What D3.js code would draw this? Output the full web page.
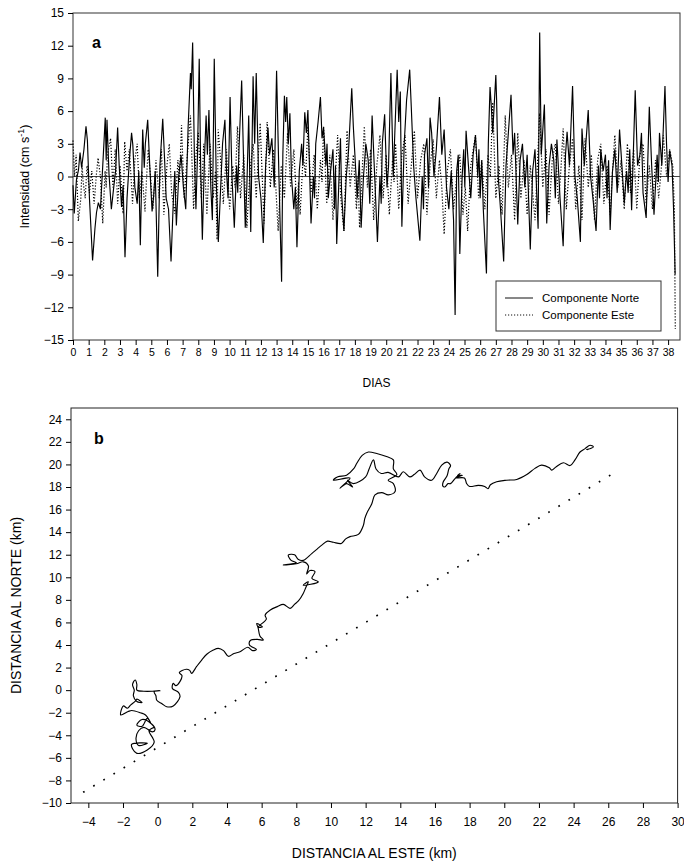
<!DOCTYPE html>
<html>
<head>
<meta charset="utf-8">
<script src="https://cdn.jsdelivr.net/npm/d3@7"></script>
<style>
  body { margin: 0; background: #fff; }
  svg { display: block; font-family: "Liberation Sans", Arial, sans-serif; }
</style>
</head>
<body>
<script>
// panel a: velocity components, [day, cm/s]
var norte = [
  [0.00,-0.8],[0.08,-3.4],[0.22,-0.3],[0.35,0.6],[0.45,2.2],[0.55,0.8],[0.70,2.5],[0.83,4.6],[0.92,3.3],
  [1.05,-2.0],[1.25,-7.7],[1.40,-4.8],[1.50,-3.3],[1.62,-2.4],[1.75,-3.0],[1.90,1.0],[2.06,5.4],[2.12,1.5],
  [2.17,5.2],[2.30,0.2],[2.45,-3.0],[2.60,-1.0],[2.72,0.5],[2.85,4.5],[2.95,1.0],[3.10,-2.8],[3.20,-0.8],
  [3.32,-7.4],[3.45,-2.0],[3.60,1.5],[3.74,4.0],[3.82,2.9],[3.95,-1.0],[4.10,-2.5],[4.20,0.5],[4.30,-6.3],
  [4.45,4.3],[4.55,0.8],[4.62,3.0],[4.77,5.2],[4.90,1.0],[5.05,-3.2],[5.15,-1.8],[5.25,0.5],[5.41,-9.2],
  [5.55,1.0],[5.73,5.3],[5.85,1.5],[5.95,-2.0],[6.10,-3.0],[6.26,-7.8],[6.40,-2.5],[6.50,0.5],[6.60,-4.5],
  [6.75,0.0],[6.90,2.0],[7.05,-1.0],[7.20,-3.0],[7.35,4.5],[7.50,9.5],[7.55,8.0],[7.64,12.3],[7.75,2.0],
  [7.85,-3.0],[7.95,2.0],[8.06,10.8],[8.15,1.0],[8.26,-5.8],[8.38,1.0],[8.50,5.6],[8.58,2.0],[8.68,6.1],
  [8.80,-1.0],[8.90,-4.0],[9.02,10.8],[9.15,-0.5],[9.28,-6.0],[9.40,-2.0],[9.55,3.0],[9.70,5.2],[9.80,0.5],
  [9.90,-2.0],[10.03,7.3],[10.15,0.0],[10.30,-4.7],[10.45,1.0],[10.52,-1.5],[10.60,2.5],[10.77,8.8],[10.90,1.0],
  [11.00,-4.7],[11.10,-1.0],[11.22,5.6],[11.35,-5.1],[11.50,9.2],[11.60,3.0],[11.70,9.5],[11.85,0.0],
  [12.00,-2.0],[12.15,-6.1],[12.30,1.0],[12.45,4.5],[12.55,2.0],[12.70,3.5],[12.85,-1.0],[13.00,9.7],
  [13.15,0.0],[13.32,-9.65],[13.40,2.0],[13.50,7.4],[13.58,5.0],[13.65,7.3],[13.75,3.0],[13.85,5.8],
  [13.95,0.0],[14.10,-3.0],[14.20,-1.0],[14.30,-6.5],[14.45,0.5],[14.60,3.0],[14.68,1.0],[14.80,5.9],[14.90,4.0],[15.00,6.1],
  [15.20,-4.3],[15.35,0.0],[15.42,-2.0],[15.50,3.0],[15.65,5.0],[15.80,7.3],[15.90,3.5],[16.00,4.5],[16.15,1.0],
  [16.22,3.0],[16.30,-2.0],[16.45,0.5],[16.60,2.5],[16.70,-3.0],[16.76,1.0],[16.84,-6.2],[17.00,0.5],[17.08,3.5],[17.15,-1.5],[17.30,-5.0],[17.45,0.0],
  [17.60,2.5],[17.80,8.1],[17.90,4.6],[18.00,2.0],[18.15,-2.0],[18.28,1.5],[18.40,-4.7],[18.55,0.0],[18.70,3.0],
  [18.85,1.5],[18.95,-2.5],[19.10,5.6],[19.25,0.5],[19.44,-6.0],[19.60,0.0],[19.68,-2.5],[19.75,3.0],[19.90,5.7],[20.05,-1.0],
  [20.15,1.0],[20.30,9.5],[20.45,0.0],[20.55,4.0],[20.70,9.8],[20.80,5.0],[20.90,7.8],[21.00,-4.6],
  [21.15,3.0],[21.30,7.0],[21.50,9.8],[21.60,6.4],[21.75,1.0],[21.90,-2.0],[22.15,-5.9],[22.30,0.0],
  [22.38,-3.0],[22.45,2.0],[22.60,3.5],[22.70,-1.0],[22.80,5.4],[22.90,4.0],[23.05,0.0],[23.20,2.5],[23.40,7.3],[23.55,2.0],
  [23.70,4.3],[23.85,-1.0],[24.00,-3.0],[24.15,0.5],[24.30,-4.0],[24.40,-12.7],[24.50,0.5],[24.60,2.0],
  [24.70,-7.1],[24.85,0.0],[24.95,2.5],[25.02,-1.0],[25.10,4.2],[25.25,1.0],[25.40,-2.0],[25.55,2.0],[25.70,3.8],[25.85,0.0],
  [25.92,2.5],[26.00,-2.0],[26.10,1.5],[26.20,-3.0],[26.40,-8.9],[26.52,3.0],[26.63,8.2],[26.70,6.7],[26.80,4.0],[27.00,9.3],
  [27.05,7.0],[27.15,0.0],[27.30,-3.0],[27.50,-7.8],[27.65,1.0],[27.80,4.0],[27.97,7.5],[28.10,2.0],
  [28.20,4.0],[28.40,-4.4],[28.55,1.5],[28.70,3.0],[28.85,-1.0],[29.00,2.0],[29.20,-6.7],[29.35,0.5],
  [29.50,2.5],[29.70,-4.8],[29.80,13.2],[29.90,2.0],[30.10,6.6],[30.25,-4.3],[30.40,1.0],[30.55,3.0],
  [30.70,1.5],[30.80,-2.0],[30.90,3.4],[31.10,-2.0],[31.30,-6.4],[31.45,2.0],[31.55,4.1],[31.70,1.0],[31.90,8.3],
  [32.05,0.0],[32.20,-2.0],[32.40,-6.0],[32.50,4.4],[32.65,1.0],[32.90,6.1],[33.05,0.0],[33.20,-2.0],
  [33.40,-5.0],[33.55,1.0],[33.62,-2.0],[33.70,2.5],[33.85,0.5],[34.00,2.0],[34.10,-2.0],[34.20,1.5],[34.30,-4.9],[34.45,0.5],[34.60,2.5],
  [34.75,-1.5],[34.90,4.3],[35.05,1.0],[35.20,-2.5],[35.35,0.5],[35.45,-1.5],[35.55,2.5],[35.67,-3.1],[35.90,7.9],[36.05,1.0],
  [36.20,2.0],[36.30,4.0],[36.40,-1.5],[36.60,-3.8],[36.80,6.4],[36.95,1.0],[37.10,-3.5],[37.30,2.0],[37.38,-0.5],[37.45,4.0],
  [37.60,1.0],[37.80,8.3],[37.90,3.0],[38.00,-0.5],[38.10,2.4],[38.25,1.0],[38.35,-3.0],[38.45,-9.0]
];

var este = [
  [0.00,3.3],[0.10,0.0],[0.20,2.0],[0.34,-4.1],[0.50,-2.0],[0.58,1.0],[0.65,-0.5],[0.78,-2.0],[0.90,1.0],[1.05,-1.5],[1.20,0.5],
  [1.35,-2.5],[1.48,0.0],[1.60,1.7],[1.75,0.0],[1.90,-4.3],[2.05,0.5],[2.12,-1.0],[2.20,2.0],[2.40,3.5],[2.55,-1.0],[2.70,2.5],
  [2.85,-2.5],[3.00,1.0],[3.10,-1.0],[3.20,-3.4],[3.30,3.2],[3.45,0.5],[3.60,2.5],[3.80,-2.5],[3.95,1.5],[4.10,3.0],
  [4.25,-2.0],[4.40,0.5],[4.60,-3.2],[4.70,0.0],[4.80,2.5],[4.95,0.0],[5.10,-3.0],[5.30,1.5],[5.50,-2.0],[5.65,2.5],
  [5.80,-3.5],[6.00,1.0],[6.15,3.0],[6.30,-1.5],[6.50,-3.4],[6.70,1.5],[6.80,-0.5],[6.93,4.7],[7.10,-2.0],[7.25,1.0],
  [7.50,5.6],[7.70,-3.0],[7.85,2.0],[8.00,4.0],[8.20,-2.0],[8.35,3.0],[8.55,-3.5],[8.75,3.0],[8.95,-2.0],
  [9.10,0.5],[9.20,-5.8],[9.27,4.3],[9.45,1.0],[9.60,-2.5],[9.80,2.5],[10.00,-3.0],[10.20,1.0],[10.35,-1.0],[10.50,4.6],
  [10.70,-2.0],[10.90,2.0],[11.10,-4.7],[11.30,0.5],[11.50,3.0],[11.70,-2.0],[11.80,1.0],[11.95,4.9],[12.20,-4.3],
  [12.40,5.0],[12.60,-1.0],[12.80,2.5],[12.95,-1.0],[13.10,-5.0],[13.30,1.0],[13.50,-2.0],[13.70,4.0],[13.90,-1.0],
  [14.10,2.5],[14.30,-3.0],[14.40,-0.5],[14.50,-3.5],[14.70,2.0],[14.85,0.0],[15.00,4.6],[15.20,-1.5],[15.40,2.0],[15.60,-3.0],
  [15.80,1.5],[15.90,-0.5],[16.00,4.6],[16.20,-2.5],[16.40,2.0],[16.60,-4.0],[16.75,0.0],[16.90,3.8],[17.10,-2.0],[17.30,-5.0],
  [17.50,4.2],[17.70,-1.0],[17.90,2.0],[18.10,-3.0],[18.20,0.0],[18.30,-4.7],[18.60,4.6],[18.80,-1.0],[19.00,2.5],
  [19.20,-4.0],[19.40,1.0],[19.60,3.8],[19.80,-2.0],[20.00,2.0],[20.20,-3.5],[20.40,1.5],[20.50,-0.5],[20.60,3.0],
  [20.80,-3.0],[21.00,2.0],[21.20,3.8],[21.40,-2.5],[21.60,1.0],[21.80,4.2],[22.00,-2.0],[22.20,1.5],
  [22.40,3.0],[22.60,-3.5],[22.80,1.0],[23.00,3.4],[23.20,-2.0],[23.40,1.5],[23.55,-1.0],[23.70,-5.3],[23.90,0.5],
  [24.10,2.5],[24.30,-3.0],[24.50,0.0],[24.70,2.0],[24.90,-3.5],[25.05,-1.0],[25.20,-5.0],[25.40,1.0],[25.70,3.8],
  [25.90,-2.0],[26.10,1.5],[26.30,-3.0],[26.50,2.0],[26.65,0.0],[26.80,6.8],[27.00,-2.0],[27.20,1.0],[27.40,-3.5],
  [27.60,5.6],[27.80,-1.0],[28.00,2.0],[28.20,-4.0],[28.40,4.0],[28.60,-2.0],[28.80,1.5],[29.00,-3.5],
  [29.20,1.0],[29.35,-1.5],[29.50,-4.0],[29.80,5.8],[30.00,-1.0],[30.20,2.5],[30.40,-3.5],[30.60,1.5],[30.80,3.0],
  [31.00,-2.5],[31.15,0.5],[31.30,4.4],[31.50,-3.0],[31.70,1.0],[31.90,3.5],[32.10,-3.0],[32.30,1.0],[32.50,-4.0],
  [32.70,3.5],[32.90,-1.0],[33.10,2.0],[33.30,-4.0],[33.50,1.5],[33.70,3.0],[33.90,-2.5],[34.10,1.0],
  [34.30,-3.5],[34.45,0.5],[34.60,3.8],[34.80,-1.0],[35.00,1.5],[35.20,-3.0],[35.40,3.0],[35.60,-1.5],[35.80,2.5],
  [36.00,-3.0],[36.20,2.0],[36.40,3.0],[36.60,-2.5],[36.80,1.0],[37.00,-3.0],[37.20,1.5],[37.40,-2.0],
  [37.55,0.5],[37.70,3.8],[37.90,0.0],[38.10,2.5],[38.30,1.0],[38.40,-3.0],[38.46,-14.0]
];

var dayTicks = d3.range(0, 39);
var velTicks = [-15, -12, -9, -6, -3, 0, 3, 6, 9, 12, 15];

// panel b: progressive vector path, [km east, km north]
var trayectoria = [
  [-0.2,-3.3],[-0.5,-3.6],[-0.3,-4.2],[-0.2,-4.6],[-0.6,-5.3],[-1.2,-5.6],[-1.45,-5.2],[-1.5,-4.8],
  [-0.6,-4.7],[-1.1,-4.9],[-1.25,-4.3],[-1.1,-3.6],[-0.8,-3.3],[-0.3,-3.7],[-0.15,-3.5],[-0.35,-3.0],
  [-0.9,-2.6],[-1.2,-3.1],[-0.9,-3.2],[-0.6,-2.5],[-0.4,-2.9],[-0.7,-2.2],[-1.0,-2.0],[-1.5,-1.8],
  [-1.7,-1.9],[-2.13,-2.2],[-1.98,-1.4],[-1.75,-1.6],[-1.55,-1.3],[-1.3,-1.0],[-1.2,-0.8],[-0.9,-1.1],
  [-1.2,-1.0],[-1.4,-0.5],[-1.35,0.0],[-1.45,0.5],[-1.3,0.9],[-1.2,0.5],[-1.2,0.0],[-0.8,-0.1],
  [-0.3,-0.1],[0.15,-0.05],[-0.2,-0.15],[-0.1,-0.5],[-0.05,-0.9],[0.25,-1.2],[0.52,-1.47],[0.9,-1.4],
  [1.29,-0.58],[1.2,-0.2],[0.85,0.15],[0.9,0.6],[1.05,0.4],[1.3,0.8],[1.4,1.3],[1.25,1.55],[1.65,1.85],
  [1.85,1.75],[1.96,1.49],[2.25,2.1],[2.54,2.67],[2.85,3.2],[3.21,3.55],[3.5,3.7],[3.8,3.5],[4.08,3.0],
  [4.4,3.25],[4.75,3.4],[5.2,3.8],[5.48,3.5],[5.7,3.6],[5.3,4.0],[5.35,4.4],[5.75,4.5],[6.1,4.44],
  [5.9,4.8],[5.8,5.5],[5.72,5.9],[6.05,5.6],[5.81,5.6],[6.27,6.3],[6.2,6.65],[6.5,7.1],[6.9,7.4],
  [7.25,7.6],[7.64,7.25],[7.9,7.6],[8.12,7.9],[8.4,8.57],[8.55,9.1],[8.69,9.6],[8.4,9.3],[9.27,9.6],
  [8.9,9.9],[9.08,10.5],[8.79,10.6],[8.6,10.3],[8.7,11.0],[8.4,11.37],[8.0,11.2],[7.25,11.08],[8.0,11.3],
  [7.7,11.5],[7.54,11.97],[7.9,12.0],[8.1,11.6],[8.4,11.5],[8.89,12.1],[9.2,12.5],[9.47,12.85],[9.8,13.2],
  [10.14,13.1],[10.6,13.0],[10.85,13.4],[11.1,13.6],[11.58,13.8],[11.87,14.6],[11.95,15.2],[12.06,15.66],
  [12.35,16.5],[12.54,17.3],[12.93,17.5],[13.31,17.3],[13.7,17.6],[13.6,18.3],[13.3,18.6],[13.8,19.1],
  [13.6,19.6],[13.6,20.4],[13.2,20.7],[12.64,20.97],[12.16,21.1],[11.8,20.8],[11.49,20.1],[11.3,19.6],
  [10.9,19.05],[10.4,18.9],[10.14,18.6],[11.1,18.8],[10.52,17.9],[10.9,18.3],[11.25,18.0],[10.95,18.6],
  [11.3,18.3],[12.0,18.9],[12.2,19.6],[12.45,20.4],[12.6,19.6],[12.9,19.2],[13.3,19.3],[13.9,18.9],
  [14.17,19.35],[14.55,18.9],[14.8,19.1],[15.14,19.5],[15.4,18.9],[15.81,18.6],[16.1,19.2],[16.39,19.94],
  [16.7,20.2],[16.9,19.9],[16.8,19.6],[16.7,19.0],[16.48,18.46],[16.45,18.1],[16.57,18.0],[16.75,18.3],
  [16.9,18.3],[17.16,18.75],[17.45,19.2],[17.3,19.0],[17.6,19.05],[17.2,18.8],[17.7,18.8],[17.83,18.3],
  [18.0,18.05],[18.5,18.15],[18.87,18.05],[19.06,17.85],[19.2,18.2],[19.56,18.46],[20.13,18.6],
  [20.72,18.67],[21.3,19.1],[21.77,19.65],[22.15,19.94],[22.6,19.7],[22.73,19.5],[23.0,19.8],
  [23.41,20.15],[23.8,19.9],[24.08,20.4],[24.37,21.1],[24.66,21.4],[24.95,21.7],[25.14,21.55],
  [24.75,21.3],[25.05,21.45]
];

var recta = [[-4.3, -9.05], [26.5, 19.4]];

var esteTicks = d3.range(-4, 31, 2);
var norteTicks = d3.range(-10, 25, 2);

var svg = d3.select('body').append('svg')
  .attr('width', 684)
  .attr('height', 863);

// ---------- panel a ----------
var a = { left: 73, right: 680, top: 13, bottom: 340 };
var xa = d3.scaleLinear().domain([0, 38.76]).range([a.left, a.right]);
var ya = d3.scaleLinear().domain([-15, 15]).range([a.bottom, a.top]);

var gA = svg.append('g');

gA.append('rect')
  .attr('x', a.left).attr('y', a.top)
  .attr('width', a.right - a.left).attr('height', a.bottom - a.top)
  .attr('fill', 'none').attr('stroke', '#333').attr('stroke-width', 1);

gA.append('line')
  .attr('x1', a.left).attr('x2', a.right)
  .attr('y1', ya(0)).attr('y2', ya(0))
  .attr('stroke', '#444').attr('stroke-width', 1);

var lineA = d3.line().x(function (d) { return xa(d[0]); }).y(function (d) { return ya(d[1]); });

gA.append('path').datum(este)
  .attr('d', lineA)
  .attr('fill', 'none').attr('stroke', '#000').attr('stroke-width', 1.2)
  .attr('stroke-dasharray', '1.2,1.8');

gA.append('path').datum(norte)
  .attr('d', lineA)
  .attr('fill', 'none').attr('stroke', '#000').attr('stroke-width', 1.15);

gA.append('g')
  .attr('transform', 'translate(0,' + a.bottom + ')')
  .call(d3.axisBottom(xa).tickValues(dayTicks).tickSize(5).tickPadding(4).tickFormat(d3.format('d')))
  .call(function (g) {
    g.select('.domain').remove();
    g.selectAll('text').attr('font-size', 10.5).attr('fill', '#000');
  });

gA.append('g')
  .attr('transform', 'translate(' + a.left + ',0)')
  .call(d3.axisLeft(ya).tickValues(velTicks).tickSize(5).tickPadding(4))
  .call(function (g) {
    g.select('.domain').remove();
    g.selectAll('text').attr('font-size', 12).attr('fill', '#000');
  });

gA.append('text')
  .attr('x', (a.left + a.right) / 2).attr('y', 387)
  .attr('text-anchor', 'middle').attr('font-size', 12)
  .text('DIAS');

var yl = gA.append('text')
  .attr('transform', 'translate(29,' + ya(0) + ') rotate(-90)')
  .attr('text-anchor', 'middle').attr('font-size', 12.5);
yl.append('tspan').text('Intensidad (cm s');
yl.append('tspan').attr('dy', -5).attr('font-size', 9).text('-1');
yl.append('tspan').attr('dy', 5).text(')');

gA.append('text')
  .attr('x', 92).attr('y', 48)
  .attr('font-size', 16).attr('font-weight', 'bold')
  .text('a');

// legend
var lg = gA.append('g');
lg.append('rect')
  .attr('x', 496).attr('y', 281).attr('width', 165).attr('height', 50)
  .attr('fill', '#fff').attr('stroke', '#333').attr('stroke-width', 1);
var legendItems = [
  { label: 'Componente Norte', dash: null, y: 298 },
  { label: 'Componente Este', dash: '1.2,1.8', y: 315 }
];
legendItems.forEach(function (it) {
  lg.append('line')
    .attr('x1', 505).attr('x2', 533).attr('y1', it.y).attr('y2', it.y)
    .attr('stroke', '#111').attr('stroke-width', 1)
    .attr('stroke-dasharray', it.dash);
  lg.append('text')
    .attr('x', 542).attr('y', it.y + 4)
    .attr('font-size', 11.5)
    .text(it.label);
});

// ---------- panel b ----------
var b = { left: 71, right: 677.6, top: 408, bottom: 803 };
var xb = d3.scaleLinear().domain([-5, 30]).range([b.left, b.right]);
var yb = d3.scaleLinear().domain([-10, 25]).range([b.bottom, b.top]);

var gB = svg.append('g');

gB.append('rect')
  .attr('x', b.left).attr('y', b.top)
  .attr('width', b.right - b.left).attr('height', b.bottom - b.top)
  .attr('fill', 'none').attr('stroke', '#222').attr('stroke-width', 1);

var lineB = d3.line().x(function (d) { return xb(d[0]); }).y(function (d) { return yb(d[1]); });

gB.append('path').datum(recta)
  .attr('d', lineB)
  .attr('fill', 'none').attr('stroke', '#000').attr('stroke-width', 1.7)
  .attr('stroke-dasharray', '1.7,10.1');

gB.append('path').datum(trayectoria)
  .attr('d', d3.line().curve(d3.curveCatmullRom.alpha(0.5))
    .x(function (d) { return xb(d[0]); }).y(function (d) { return yb(d[1]); }))
  .attr('fill', 'none').attr('stroke', '#000').attr('stroke-width', 1.15);

gB.append('g')
  .attr('transform', 'translate(0,' + b.bottom + ')')
  .call(d3.axisBottom(xb).tickValues(esteTicks).tickSize(5).tickPadding(9))
  .call(function (g) {
    g.select('.domain').remove();
    g.selectAll('text').attr('font-size', 12).attr('fill', '#000');
  });

gB.append('g')
  .attr('transform', 'translate(' + b.left + ',0)')
  .call(d3.axisLeft(yb).tickValues(norteTicks).tickSize(5).tickPadding(4))
  .call(function (g) {
    g.select('.domain').remove();
    g.selectAll('text').attr('font-size', 12).attr('fill', '#000');
  });

gB.append('text')
  .attr('x', (b.left + b.right) / 2).attr('y', 858)
  .attr('text-anchor', 'middle').attr('font-size', 14)
  .text('DISTANCIA AL ESTE (km)');

gB.append('text')
  .attr('transform', 'translate(21,' + (b.top + b.bottom) / 2 + ') rotate(-90)')
  .attr('text-anchor', 'middle').attr('font-size', 14)
  .text('DISTANCIA AL NORTE (km)');

gB.append('text')
  .attr('x', 94).attr('y', 444)
  .attr('font-size', 16).attr('font-weight', 'bold')
  .text('b');
</script>
</body>
</html>
